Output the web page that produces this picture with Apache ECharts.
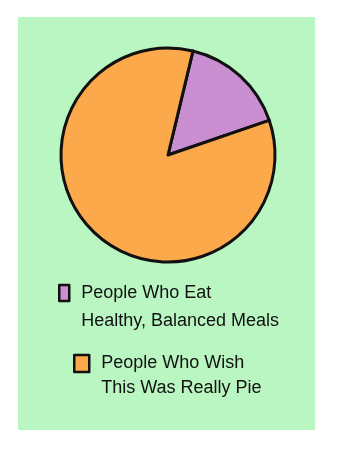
<!DOCTYPE html>
<html>
<head>
<meta charset="utf-8">
<script src="https://cdn.jsdelivr.net/npm/echarts@6/dist/echarts.min.js"></script>
<style>html,body{margin:0;padding:0;background:#fff}#c{width:338px;height:450px}</style>
</head>
<body>
<div id="c"></div>
<script>
const categories = ["People Who Eat\nHealthy, Balanced Meals", "People Who Wish\nThis Was Really Pie"];
const values = [16, 84];
const colors = ["#c98fd0", "#fba94a"];

const chart = echarts.init(document.getElementById('c'), null, {renderer: 'canvas'});
const FONT = 'Liberation Sans';
chart.setOption({
  backgroundColor: '#ffffff',
  animation: false,
  graphic: [{
    type: 'rect', z: -10, silent: true,
    shape: {x: 18, y: 17, width: 297, height: 413},
    style: {fill: '#baf6c2'}
  }],
  legend: [
    {
      data: [categories[0]], orient: 'vertical', left: 58, top: 279, padding: 0,
      icon: 'path://M0,0H10V16H0Z M17,44', itemWidth: 17, itemHeight: 44,
      itemStyle: {borderColor: '#111', borderWidth: 2.5},
      textStyle: {fontFamily: FONT, fontSize: 18, color: '#111', lineHeight: 28},
      selectedMode: false
    },
    {
      data: [categories[1]], orient: 'vertical', left: 73, top: 351, padding: 0,
      icon: 'path://M0,0H15V17H0Z M22,42', itemWidth: 22, itemHeight: 42,
      itemStyle: {borderColor: '#111', borderWidth: 2.5},
      textStyle: {fontFamily: FONT, fontSize: 18, color: '#111', lineHeight: 25},
      selectedMode: false
    }
  ],
  series: [{
    type: 'pie',
    center: [168, 155],
    radius: 107,
    startAngle: 76.5,
    clockwise: true,
    silent: true,
    label: {show: false},
    labelLine: {show: false},
    itemStyle: {borderColor: '#111', borderWidth: 3},
    data: categories.map((n, i) => ({name: n, value: values[i], itemStyle: {color: colors[i]}}))
  }]
});
</script>
</body>
</html>
